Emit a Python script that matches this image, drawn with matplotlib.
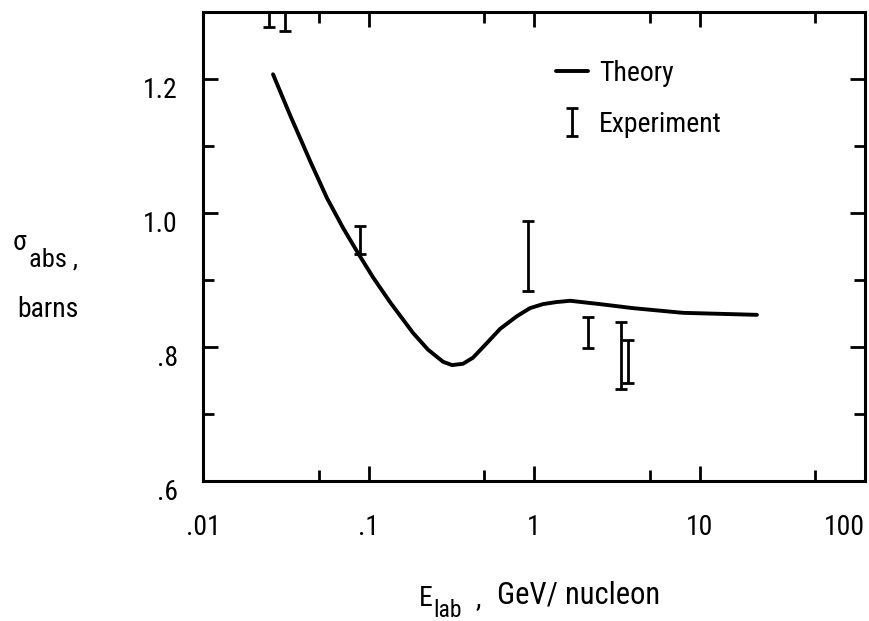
import numpy as np
import matplotlib
matplotlib.use("Agg")
import matplotlib.pyplot as plt
import matplotlib.font_manager as fm
import matplotlib.transforms as mtransforms
from matplotlib.ticker import FixedLocator, NullFormatter

#-----------------------------------------------------------------------------
# data

# theory curve (E in GeV/nucleon, sigma in barns)
e_theory = [0.0265, 0.0300, 0.0340, 0.0386, 0.0443, 0.0562, 0.0701, 0.0865,
            0.1065, 0.1349, 0.1858, 0.2290, 0.2820, 0.3196, 0.3725, 0.4277,
            0.5196, 0.6237, 0.7885, 0.9460, 1.132, 1.359, 1.652, 2.504,
            3.963, 7.943, 22.23]
s_theory = [1.207, 1.175, 1.143, 1.112, 1.078, 1.022, 0.978, 0.940,
            0.904, 0.867, 0.821, 0.796, 0.778, 0.773, 0.775, 0.784,
            0.806, 0.827, 0.846, 0.858, 0.864, 0.867, 0.869, 0.864,
            0.858, 0.851, 0.848]

# experiment: energy, low, high
e_exp = [0.0251, 0.0313, 0.0889, 0.92, 2.12, 3.36, 3.70]
s_low = [1.278, 1.271, 0.939, 0.884, 0.799, 0.737, 0.747]
s_high = [1.33, 1.33, 0.980, 0.988, 0.845, 0.838, 0.810]

xticks = [0.01, 0.1, 1, 10, 100]
xticklabels = [".01", ".1", "1", "10", "100"]
xminor = [0.05, 0.5, 5, 50]
yticks = [0.6, 0.8, 1.0, 1.2]
yticklabels = [".6", ".8", "1.0", "1.2"]
yminor = [0.7, 0.9, 1.1]

#-----------------------------------------------------------------------------
# pick a narrow font if there is one

names = {f.name for f in fm.fontManager.ttflist}
fam = "DejaVu Sans"
for cand in ["Liberation Sans Narrow", "Roboto Condensed", "Open Sans Condensed",
             "DejaVu Sans Condensed"]:
    if cand in names:
        fam = cand
        break
else:
    if any(f.name == "DejaVu Sans" and f.stretch == "condensed"
           for f in fm.fontManager.ttflist):
        plt.rcParams["font.stretch"] = "condensed"

plt.rcParams["font.family"] = [fam, "DejaVu Sans"]

fs = 20

fig = plt.figure(figsize=(8.69, 6.21), dpi=100)
ax = fig.add_axes([203/869, 1 - 481/621, 662/869, 469/621])

ax.plot(e_theory, s_theory, color="black", lw=2.8, label="Theory",
        solid_capstyle="round", solid_joinstyle="round")

s_mid = (np.array(s_low) + np.array(s_high)) / 2
s_err = (np.array(s_high) - np.array(s_low)) / 2
ax.errorbar(e_exp, s_mid, yerr=s_err, fmt="none", ecolor="black",
            elinewidth=2.0, capsize=4.5, capthick=2.0, label="Experiment")

ax.set_xscale("log")
ax.set_xlim(0.01, 100)
ax.set_ylim(0.6, 1.3)

ax.xaxis.set_major_locator(FixedLocator(xticks))
ax.set_xticklabels(xticklabels)
ax.xaxis.set_minor_locator(FixedLocator(xminor))
ax.xaxis.set_minor_formatter(NullFormatter())
ax.yaxis.set_major_locator(FixedLocator(yticks))
ax.set_yticklabels(yticklabels)
ax.yaxis.set_minor_locator(FixedLocator(yminor))

ax.tick_params(which="both", direction="in", top=True, right=True,
               width=2.0, labelsize=fs)
ax.tick_params(which="major", length=11)
ax.tick_params(which="minor", length=8)
ax.tick_params(axis="x", pad=24)
ax.tick_params(axis="y", pad=18)
for sp in ax.spines.values():
    sp.set_linewidth(2.2)

# last x label sits inside the frame, y labels a bit below their ticks
ax.get_xticklabels()[-1].set_horizontalalignment("right")
down = mtransforms.ScaledTranslation(0, -6/72, fig.dpi_scale_trans)
for lab in ax.get_yticklabels():
    lab.set_transform(lab.get_transform() + down)

ax.legend(loc="upper left", bbox_to_anchor=(556/869, 1 - 60/621),
          bbox_transform=fig.transFigure, frameon=False, fontsize=fs,
          handlelength=1.15, handletextpad=0.4, labelspacing=0.85,
          borderpad=0, borderaxespad=0)

# axis titles, pieced together like the typed original
def ftxt(x, y, s, size=fs):
    fig.text(x/869, 1 - y/621, s, fontsize=size, ha="left", va="baseline")

ftxt(13, 250, "σ")
ftxt(29, 267, "abs ,", fs - 1)
ftxt(17, 317, "barns")

ftxt(419, 606, "E")
ftxt(433, 617, "lab", fs - 3)
ftxt(476, 606, ",")
ftxt(497, 603, "GeV/ nucleon", fs + 2)

fig.savefig("out.png", dpi=100)
